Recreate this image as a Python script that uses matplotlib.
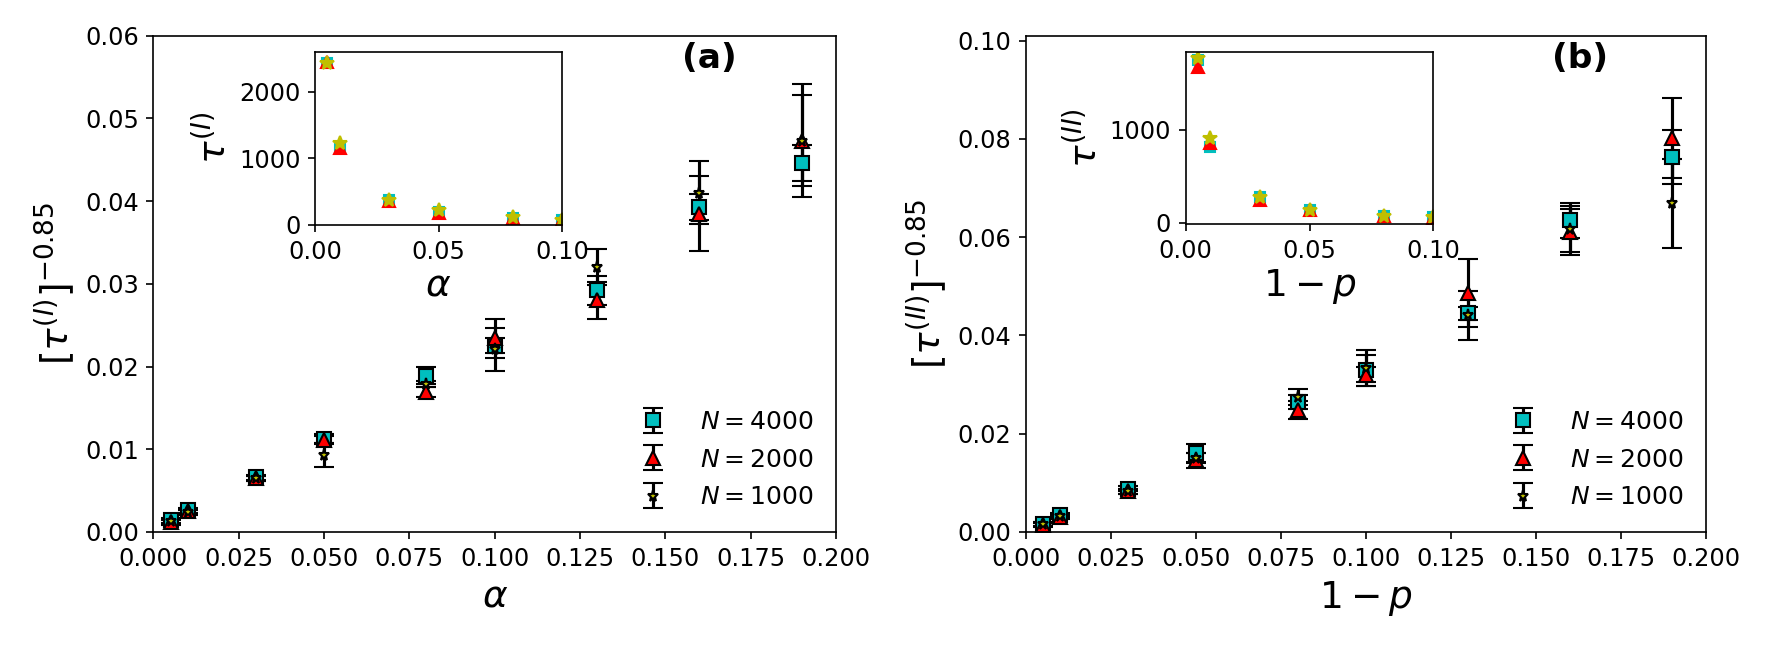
import matplotlib
matplotlib.use('Agg')
import matplotlib.pyplot as plt

# ---------------- data ----------------
x_vals = [0.005, 0.01, 0.03, 0.05, 0.08, 0.10, 0.13, 0.16, 0.19]

# panel (a): [tau^(I)]^-0.85
a_4000 = [0.0014, 0.0026, 0.0066, 0.0113, 0.0189, 0.0225, 0.0292, 0.0393, 0.0446]
a_4000_err = [0.0003, 0.0003, 0.0003, 0.0006, 0.0010, 0.0009, 0.0018, 0.0016, 0.0022]
a_2000 = [0.0012, 0.0025, 0.0065, 0.0111, 0.0169, 0.0234, 0.0280, 0.0385, 0.0473]
a_2000_err = [0.0003, 0.0003, 0.0003, 0.0005, 0.0006, 0.0024, 0.0022, 0.0045, 0.0055]
a_1000 = [0.0013, 0.0024, 0.0065, 0.0093, 0.0179, 0.0221, 0.0320, 0.0410, 0.0473]
a_1000_err = [0.0003, 0.0003, 0.0003, 0.0014, 0.0004, 0.0026, 0.0022, 0.0038, 0.0068]

# panel (b): [tau^(II)]^-0.85
b_4000 = [0.0017, 0.0034, 0.0088, 0.0161, 0.0264, 0.0329, 0.0445, 0.0634, 0.0763]
b_4000_err = [0.0004, 0.0004, 0.0005, 0.0019, 0.0014, 0.0032, 0.0013, 0.0035, 0.0055]
b_2000 = [0.0015, 0.0031, 0.0083, 0.0146, 0.0248, 0.0320, 0.0487, 0.0610, 0.0802]
b_2000_err = [0.0004, 0.0004, 0.0005, 0.0015, 0.0019, 0.0015, 0.0069, 0.0047, 0.0081]
b_1000 = [0.0016, 0.0032, 0.0083, 0.0151, 0.0275, 0.0334, 0.0441, 0.0617, 0.0669]
b_1000_err = [0.0004, 0.0004, 0.0005, 0.0010, 0.0017, 0.0037, 0.0050, 0.0047, 0.0091]

# insets: raw tau values
x_inset = [0.005, 0.01, 0.03, 0.05, 0.08, 0.10]
ia_4000 = [2430, 1170, 370, 200, 105, 80]
ia_2000 = [2440, 1160, 360, 185, 110, 70]
ia_1000 = [2430, 1225, 380, 230, 115, 80]
ib_4000 = [1755, 813, 274, 140, 75, 58]
ib_2000 = [1683, 857, 245, 135, 75, 55]
ib_1000 = [1773, 910, 280, 140, 75, 58]

labels = ['$N=4000$', '$N=2000$', '$N=1000$']
main_xticks = [0.000, 0.025, 0.050, 0.075, 0.100, 0.125, 0.150, 0.175, 0.200]
inset_xticks = [0.00, 0.05, 0.10]

TICK_FS = 11.5
LAB_FS = 18

fig = plt.figure(figsize=(11.8, 4.3), dpi=150)

styles = [dict(fmt='s', color='c', ms=6.5),
          dict(fmt='^', color='r', ms=7),
          dict(fmt='*', color='y', ms=5.5)]


def main_panel(ax, ys, errs, xlabel, ylabel, ylim, yticks, tag):
    for y, e, st, lab in zip(ys, errs, styles, labels):
        ax.errorbar(x_vals, y, yerr=e, fmt=st['fmt'], color=st['color'],
                    ms=st['ms'], mec='k', mew=1.0, ecolor='k',
                    elinewidth=1.5, capsize=5, capthick=1.5, label=lab)
    ax.set_xlim(0, 0.2)
    ax.set_ylim(*ylim)
    ax.set_xticks(main_xticks)
    ax.set_xticklabels(['%.3f' % t for t in main_xticks])
    ax.set_yticks(yticks)
    ax.set_yticklabels(['%.2f' % t for t in yticks])
    ax.tick_params(labelsize=TICK_FS)
    ax.set_xlabel(xlabel, fontsize=LAB_FS)
    ax.set_ylabel(ylabel, fontsize=LAB_FS)
    ax.text(0.815, 0.955, tag, transform=ax.transAxes, fontsize=16.5,
            fontweight='bold', ha='center', va='center')
    ax.legend(loc='lower right', frameon=False, fontsize=12,
              borderaxespad=0.5, labelspacing=0.55, handletextpad=1.0,
              handlelength=1.8)


def inset_panel(ax, ys, xlabel, ylabel, ylim, yticks):
    ax.plot(x_inset, ys[0], 's', color='c', ms=5)
    ax.plot(x_inset, ys[1], '^', color='r', ms=5.5)
    ax.plot(x_inset, ys[2], '*', color='y', ms=7)
    ax.set_xlim(0, 0.1)
    ax.set_ylim(*ylim)
    ax.set_xticks(inset_xticks)
    ax.set_xticklabels(['%.2f' % t for t in inset_xticks])
    ax.set_yticks(yticks)
    ax.tick_params(labelsize=TICK_FS)
    ax.set_xlabel(xlabel, fontsize=LAB_FS, labelpad=2)
    ax.set_ylabel(ylabel, fontsize=LAB_FS, labelpad=2)


axA = fig.add_axes([0.0867, 0.1752, 0.3856, 0.7695])
main_panel(axA, [a_4000, a_2000, a_1000], [a_4000_err, a_2000_err, a_1000_err],
           r'$\alpha$', r'$[\tau^{(I)}]^{-0.85}$', (0, 0.06),
           [0.00, 0.01, 0.02, 0.03, 0.04, 0.05, 0.06], '(a)')

axB = fig.add_axes([0.5794, 0.1752, 0.3844, 0.7695])
main_panel(axB, [b_4000, b_2000, b_1000], [b_4000_err, b_2000_err, b_1000_err],
           r'$1-p$', r'$[\tau^{(II)}]^{-0.85}$', (0, 0.101),
           [0.00, 0.02, 0.04, 0.06, 0.08, 0.10], '(b)')

insA = fig.add_axes([0.178, 0.6512, 0.1395, 0.2686])
inset_panel(insA, [ia_4000, ia_2000, ia_1000], r'$\alpha$', r'$\tau^{(I)}$',
            (0, 2600), [0, 1000, 2000])

insB = fig.add_axes([0.6699, 0.6527, 0.1399, 0.2671])
inset_panel(insB, [ib_4000, ib_2000, ib_1000], r'$1-p$', r'$\tau^{(II)}$',
            (-15, 1845), [0, 1000])

fig.savefig('out.png', dpi=150)
